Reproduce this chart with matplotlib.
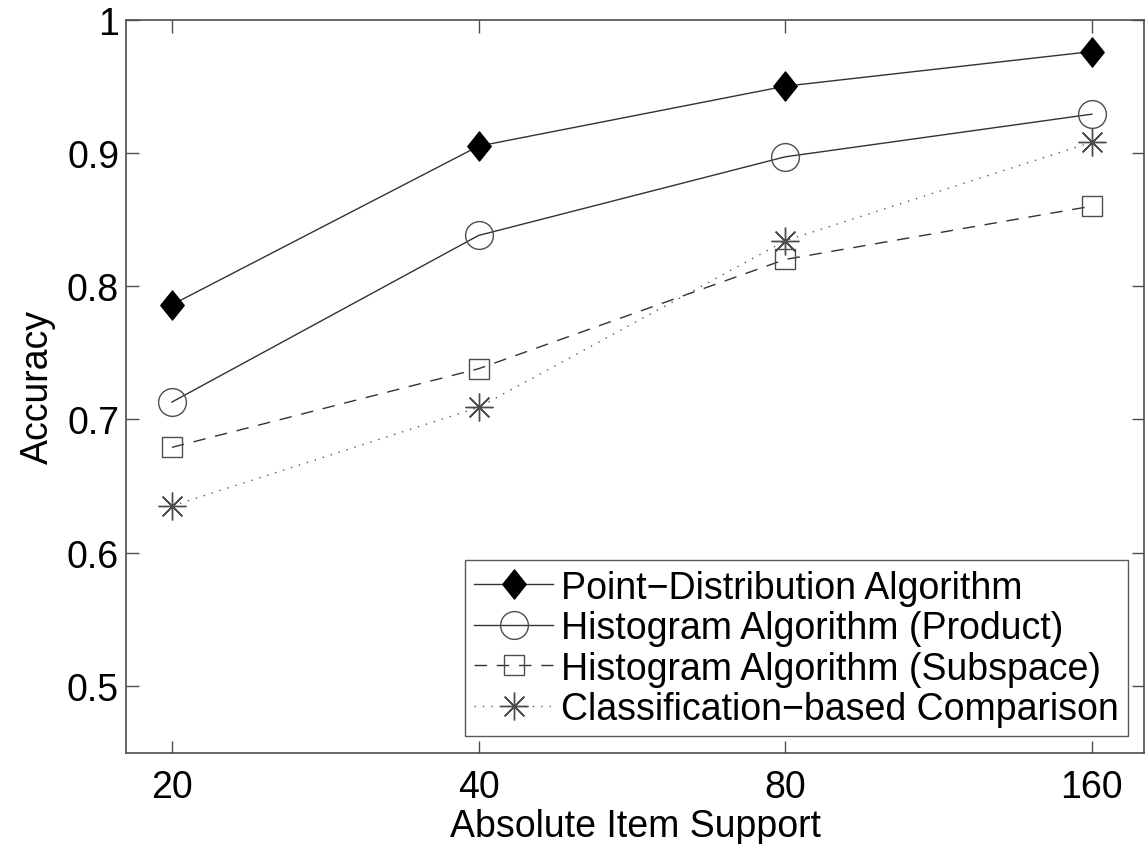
import matplotlib.pyplot as plt
from matplotlib.path import Path
from matplotlib.ticker import FixedLocator, FixedFormatter, NullLocator

plt.rcParams['font.family'] = ['Liberation Sans', 'DejaVu Sans']

# data
support = [20, 40, 80, 160]
point_dist = [0.786, 0.905, 0.950, 0.976]
hist_product = [0.713, 0.838, 0.897, 0.929]
hist_subspace = [0.679, 0.738, 0.820, 0.860]
classif = [0.635, 0.709, 0.834, 0.908]

labels = ["Point\u2212Distribution Algorithm",
          "Histogram Algorithm (Product)",
          "Histogram Algorithm (Subspace)",
          "Classification\u2212based Comparison"]

y_ticks = [0.5, 0.6, 0.7, 0.8, 0.9, 1.0]
y_ticklabels = ["0.5", "0.6", "0.7", "0.8", "0.9", "1"]

# matlab-ish diamond (a bit taller than wide)
diamond = Path([(0, 1), (0.8, 0), (0, -1), (-0.8, 0), (0, 1)],
               [Path.MOVETO, Path.LINETO, Path.LINETO, Path.LINETO, Path.CLOSEPOLY])

FS = 27

fig = plt.figure(figsize=(11.48, 8.45), dpi=100)
ax = fig.add_axes([0.1098, 0.1082, 0.8867, 0.8675])

line_c = '0.2'
mk_c = '0.3'

ax.plot(support, point_dist, color=line_c, lw=1.0, marker=diamond, ms=21,
        mfc='black', mec='black', label=labels[0])
ax.plot(support, hist_product, color=line_c, lw=1.0, marker='o', ms=20,
        mfc='none', mec=mk_c, mew=1.0, label=labels[1])
ax.plot(support, hist_subspace, color=line_c, lw=1.0, ls=(0, (9, 7)), marker='s', ms=15,
        mfc='none', mec=mk_c, mew=1.0, label=labels[2])
ax.plot(support, classif, color='0.35', lw=1.0, ls=(0, (1, 5)), marker=(8, 2, 0), ms=20,
        mfc='none', mec=mk_c, mew=1.0, label=labels[3])

ax.set_xscale('log', base=2)
ax.set_xlim(18.03, 180)
ax.set_ylim(0.45, 1.0)
ax.xaxis.set_major_locator(FixedLocator(support))
ax.xaxis.set_major_formatter(FixedFormatter([str(s) for s in support]))
ax.xaxis.set_minor_locator(NullLocator())
ax.yaxis.set_major_locator(FixedLocator(y_ticks))
ax.yaxis.set_major_formatter(FixedFormatter(y_ticklabels))

ax.tick_params(direction='in', length=9, width=1.0, color='0.3', labelsize=FS,
               top=True, right=True)
ax.tick_params(axis='x', pad=12)
ax.tick_params(axis='y', pad=5)
for s in ax.spines.values():
    s.set_color('0.3')
    s.set_linewidth(1.2)

ax.set_xlabel("Absolute Item Support", fontsize=FS, labelpad=2)
ax.set_ylabel("Accuracy", fontsize=FS, labelpad=8)

leg = ax.legend(loc='lower right', bbox_to_anchor=(0.984, 0.022), borderaxespad=0,
                fontsize=FS, fancybox=False, edgecolor='0.35', framealpha=1,
                handlelength=2.1, handletextpad=0.2, labelspacing=0.12,
                borderpad=0.25)
leg.get_frame().set_linewidth(1.0)

fig.savefig("out.png", dpi=100)
